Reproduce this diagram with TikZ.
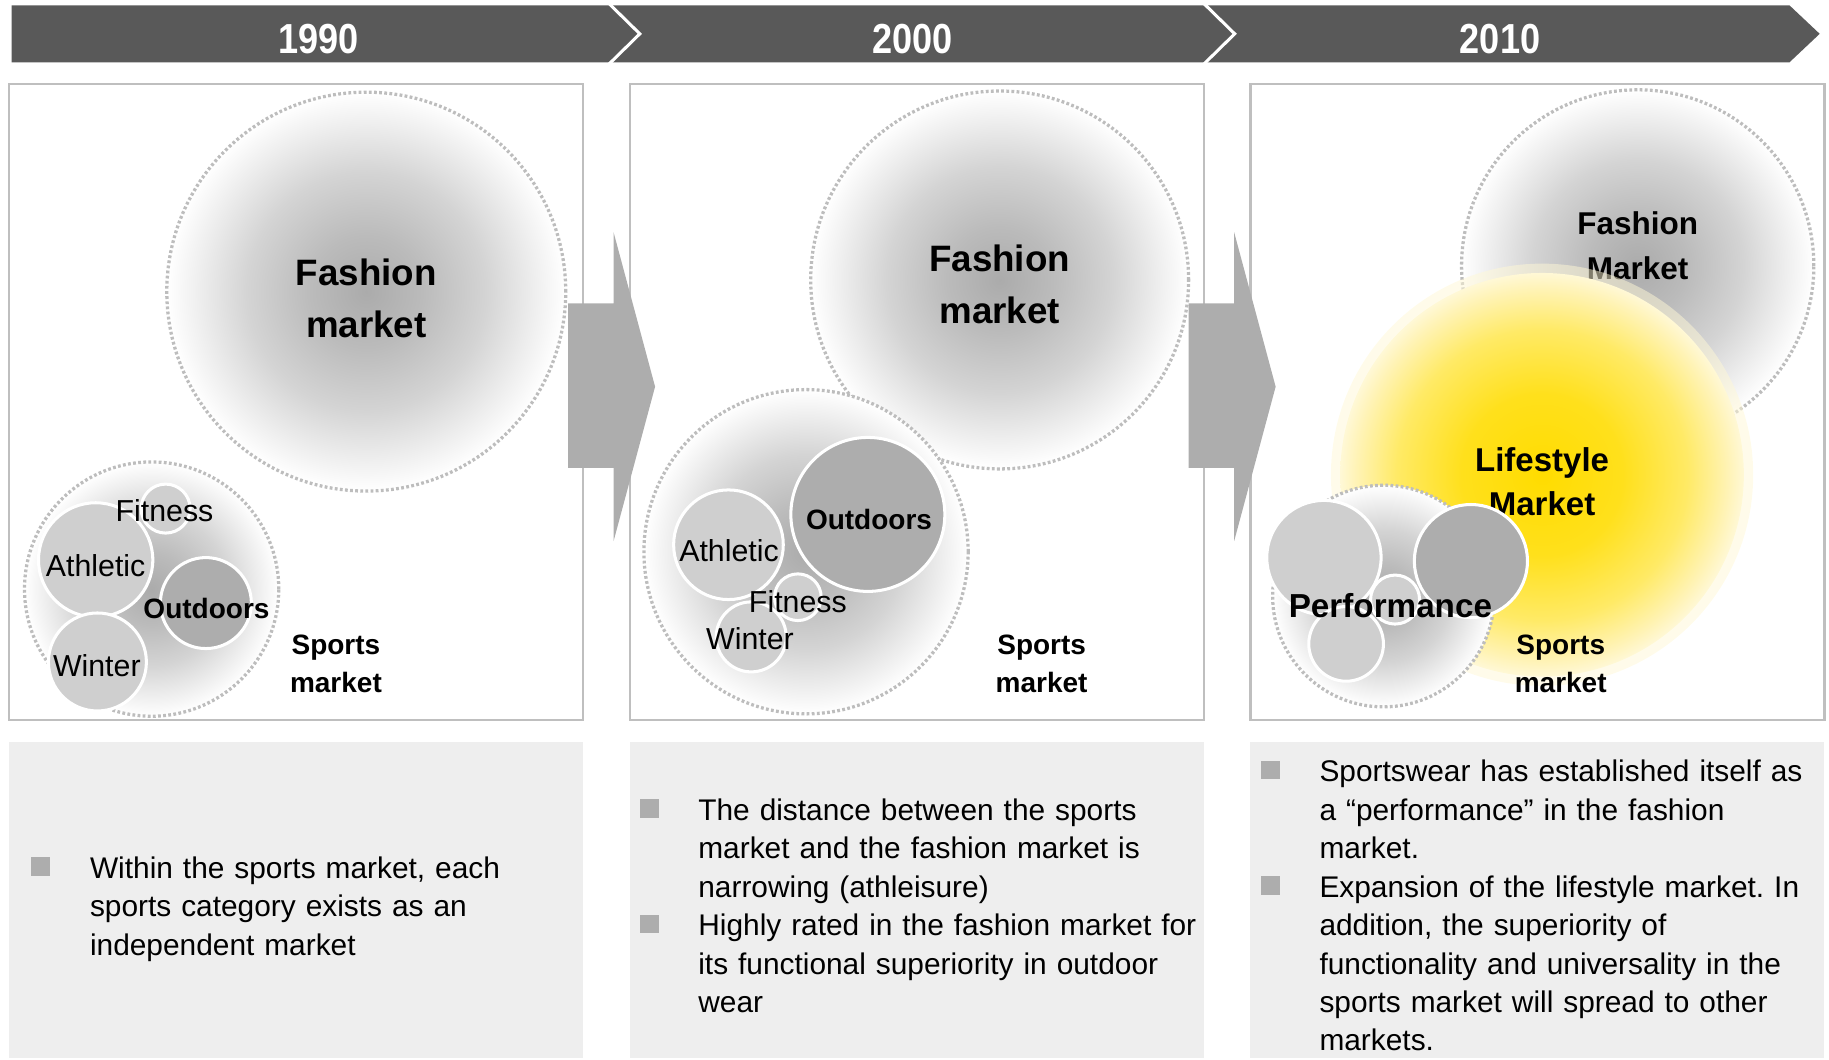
\documentclass[tikz,border=0pt]{standalone}
\usepackage{fontspec}
\setmainfont{Liberation Sans}
\newfontfamily\yearfont[FakeStretch=0.86]{Liberation Sans}
\frenchspacing

\definecolor{barDark}{HTML}{595959}
\definecolor{frameGray}{HTML}{BFBFBF}
\definecolor{arrowGray}{HTML}{ADADAD}
\definecolor{noteFill}{HTML}{EEEEEE}
\definecolor{dotGray}{HTML}{BDBDBD}
\definecolor{subLight}{HTML}{CFCFCF}
\definecolor{subDark}{HTML}{ADADAD}
\definecolor{gA}{HTML}{ABABAB}
\definecolor{gB}{HTML}{BBBBBB}
\definecolor{gC}{HTML}{D4D4D4}
\definecolor{gD}{HTML}{EEEEEE}
\definecolor{yA}{HTML}{FFDC00}
\definecolor{yB}{HTML}{FFE01C}
\definecolor{yC}{HTML}{FFEA66}
\definecolor{yD}{HTML}{FFF3B5}
\definecolor{yE}{HTML}{FFF8D6}

% soft grey centre fading to white at the rim
\pgfdeclareradialshading{marketgray}{\pgfpointorigin}{%
  color(0bp)=(gA); color(7bp)=(gB); color(15bp)=(gC); color(21bp)=(gD);
  color(25bp)=(white); color(50bp)=(white)}
% yellow glow of the lifestyle market
\pgfdeclareradialshading{lifeglow}{\pgfpointorigin}{%
  color(0bp)=(yA); color(10bp)=(yB); color(18bp)=(yC); color(23bp)=(yD);
  color(25bp)=(yE); color(50bp)=(yE)}

\tikzset{
  frame/.style={draw=frameGray, line width=2pt},
  market/.style={circle, inner sep=0pt, outer sep=0pt, minimum size=#1,
    shading=marketgray, draw=dotGray, line width=2.8pt, dash pattern=on 2.4pt off 2pt},
  seg/.style={circle, inner sep=0pt, outer sep=0pt, minimum size=#1,
    fill=subLight, draw=white, line width=2.6pt},
  segdark/.style={seg=#1, fill=subDark},
  tag/.style={inner sep=0pt, anchor=base, font=\fontsize{26}{30}\selectfont},
  tagbold/.style={inner sep=0pt, anchor=base, font=\fontsize{24}{30}\selectfont\bfseries},
  headline/.style={inner sep=0pt, anchor=base, font=\fontsize{#1}{40}\selectfont\bfseries},
  year/.style={inner sep=0pt, anchor=base, text=white, font=\yearfont\fontsize{36}{40}\selectfont\bfseries},
  note/.style={fill=noteFill},
  bullet/.style={fill=arrowGray},
  notetext/.style={inner sep=0pt, anchor=base west, text width=450pt, align=left,
    font=\fontsize{25.6}{33}\selectfont},
  shiftarrow/.style={fill=arrowGray},
}

\begin{document}
\begin{tikzpicture}[x=1pt,y=-1pt]
\useasboundingbox (0,0) rectangle (1568,908);

% ---- timeline bar ----
\fill[barDark] (10,4.5) -- (1534,4.5) -- (1560,29) -- (1534,53.5) -- (10,53.5) -- cycle;
\draw[white, line width=2.6pt] (521,2) -- (548.5,29) -- (521,56);
\draw[white, line width=2.6pt] (1031,2) -- (1058.5,29) -- (1031,56);
\node[year] (y1990) at (273,46) {1990};
\node[year] (y2000) at (782,46) {2000};
\node[year] (y2010) at (1286,46) {2010};

% ---- picture frames ----
\draw[frame] (8,72) rectangle (500,617);
\draw[frame] (540,72) rectangle (1032,617);
\draw[frame] (1072,72) rectangle (1564,617);

% ---- 1990 ----
\node[market=342] (p1fashion) at (314,250) {};
\node[headline=31.5] (p1fa) at (314,245) {Fashion};
\node[headline=31.5] (p1fb) at (314,289) {market};
\node[market=218] (p1sports) at (130,505) {};
\node[seg=42] (p1fit) at (142,436) {};
\node[seg=98] (p1ath) at (82,480) {};
\node[seg=84] (p1win) at (83.5,567.5) {};
\node[segdark=78] (p1out) at (176.5,517) {};
\node[tag] (p1fitl) at (141,447) {Fitness};
\node[tag] (p1athl) at (82,494) {Athletic};
\node[tagbold] (p1outl) at (177,530) {Outdoors};
\node[tag] (p1winl) at (83,580) {Winter};
\node[tagbold] (p1sa) at (288,561) {Sports};
\node[tagbold] (p1sb) at (288,594) {market};

% ---- 2000 ----
\node[market=324] (p2fashion) at (857,240) {};
\node[headline=31.5] (p2fa) at (857,233) {Fashion};
\node[headline=31.5] (p2fb) at (857,277) {market};
\node[market=278] (p2sports) at (691,473) {};
\node[segdark=132] (p2out) at (744,441) {};
\node[seg=94] (p2ath) at (624.5,467) {};
\node[seg=60] (p2win) at (644,546) {};
\node[seg=40] (p2fit) at (684,512) {};
\node[tagbold] (p2outl) at (745,454) {Outdoors};
\node[tag] (p2athl) at (625,481) {Athletic};
\node[tag] (p2fitl) at (684,525) {Fitness};
\node[tag] (p2winl) at (643,557) {Winter};
\node[tagbold] (p2sa) at (893,561) {Sports};
\node[tagbold] (p2sb) at (893,594) {market};

% ---- 2010 ----
\node[market=302] (p3fashion) at (1404,228) {};
\node[headline=27] (p3fa) at (1404,201) {Fashion};
\node[headline=27] (p3fb) at (1404,240) {Market};
\node[circle, inner sep=0pt, minimum size=362, fill=yE, fill opacity=0.5] (p3halo) at (1322,407) {};
\node[circle, inner sep=0pt, minimum size=346, shading=lifeglow] (p3life) at (1322,407) {};
\node[headline=28.3] (p3la) at (1322,404) {Lifestyle};
\node[headline=28.3] (p3lb) at (1322,442) {Market};
\node[market=190] (p3sports) at (1186,511) {};
\node[seg=98] (p3a) at (1135,478) {};
\node[seg=64] (p3b) at (1154,552) {};
\node[seg=42] (p3c) at (1196,514) {};
\node[segdark=97] (p3d) at (1261,481) {};
\node[headline=28.5] (p3perf) at (1192,529) {Performance};
\node[tagbold] (p3sa) at (1338,561) {Sports};
\node[tagbold] (p3sb) at (1338,594) {market};

% ---- transition arrows ----
\fill[shiftarrow] (487,260) -- (526,260) -- (526,199) -- (561.6,331.5) -- (526,464) -- (526,401) -- (487,401) -- cycle;
\fill[shiftarrow] (1019,260) -- (1058,260) -- (1058,199) -- (1093.6,331.5) -- (1058,464) -- (1058,401) -- (1019,401) -- cycle;

% ---- notes ----
\fill[note] (8,636) rectangle (500,907);
\fill[note] (540,636) rectangle (1032,907);
\fill[note] (1072,636) rectangle (1564,907);

\fill[bullet] (27,735) rectangle ++(16,16);
\node[notetext] (n1) at (77,753) {Within the sports market, each\\sports category exists as an\\independent market};

\fill[bullet] (549,685) rectangle ++(16,16);
\node[notetext] (n2a) at (598.5,703) {The distance between the sports\\market and the fashion market is\\narrowing (athleisure)};
\fill[bullet] (549,784) rectangle ++(16,16);
\node[notetext] (n2b) at (598.5,802) {Highly rated in the fashion market for\\its functional superiority in outdoor\\wear};

\fill[bullet] (1081,652) rectangle ++(16,16);
\node[notetext] (n3a) at (1131,670) {Sportswear has established itself as\\a “performance” in the fashion\\market.};
\fill[bullet] (1081,751) rectangle ++(16,16);
\node[notetext] (n3b) at (1131,769) {Expansion of the lifestyle market. In\\addition, the superiority of\\functionality and universality in the\\sports market will spread to other\\markets.};
\end{tikzpicture}
\end{document}
